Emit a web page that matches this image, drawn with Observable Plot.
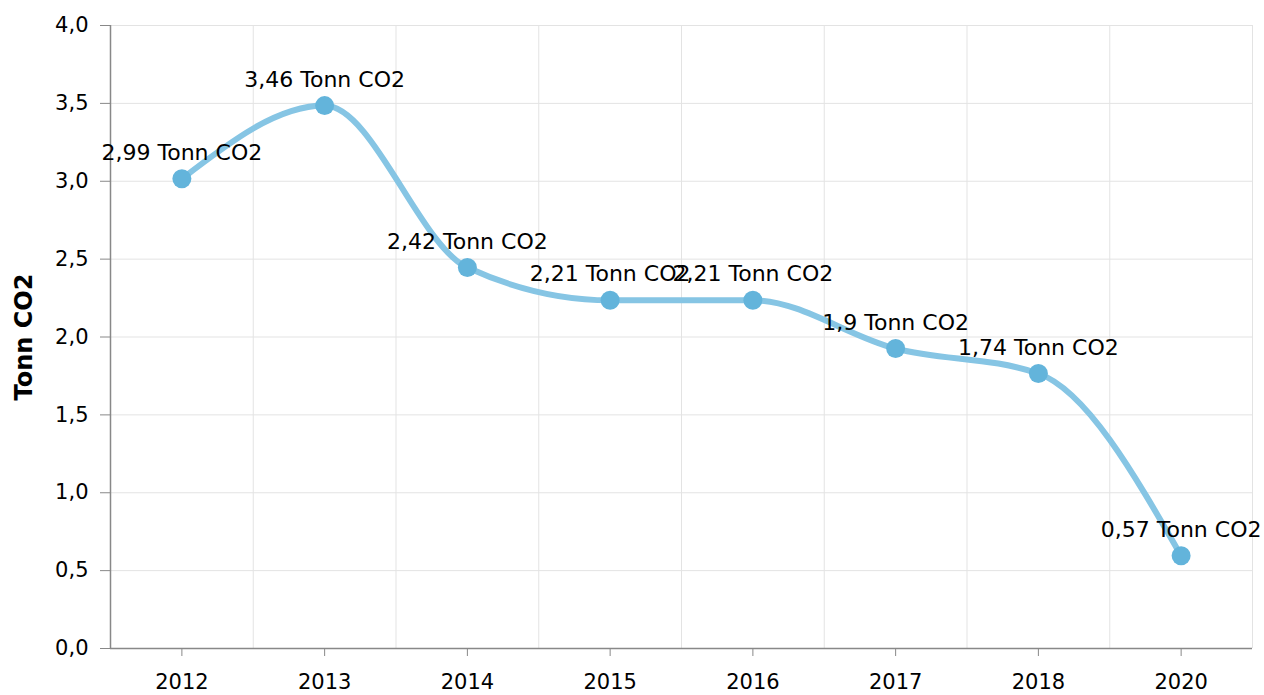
<!DOCTYPE html>
<html>
<head>
<meta charset="utf-8">
<script src="https://cdn.jsdelivr.net/npm/d3@7"></script>
<script src="https://cdn.jsdelivr.net/npm/@observablehq/plot@0.6"></script>
<style>
  html, body { margin: 0; padding: 0; background: #fff; }
  g[aria-label="y-axis label"] text { font-weight: bold; font-size: 24px; }
</style>
</head>
<body>
<div id="chart"></div>
<script>
const years = ["2012", "2013", "2014", "2015", "2016", "2017", "2018", "2020"];
const values = [2.99, 3.46, 2.42, 2.21, 2.21, 1.9, 1.74, 0.57];
const yTicks = [0, 0.5, 1, 1.5, 2, 2.5, 3, 3.5, 4];
const unit = "Tonn CO2";

const comma = v => String(v).replace(".", ",");
const data = years.map((year, i) => ({i, year, v: values[i], label: comma(values[i]) + " " + unit}));
const n = years.length;
const gridX = d3.range(n + 1).map(k => k - 0.5);

const chart = Plot.plot({
  width: 1264,
  height: 695,
  marginLeft: 110,
  marginRight: 12,
  marginTop: 25,
  marginBottom: 47,
  style: {fontFamily: "DejaVu Sans, Verdana, sans-serif", fontSize: "21px", color: "#000", background: "#fff"},
  x: {type: "linear", domain: [-0.5, n - 0.5]},
  y: {domain: [0, 4]},
  marks: [
    Plot.ruleY(yTicks, {stroke: "#e3e3e3", strokeWidth: 1}),
    Plot.ruleX(gridX, {stroke: "#e3e3e3", strokeWidth: 1}),
    Plot.axisY({
      ticks: yTicks,
      tickFormat: d => d.toFixed(1).replace(".", ","),
      tickSize: 10,
      tickPadding: 12,
      stroke: "#888",
      label: unit,
      labelAnchor: "center",
      labelArrow: "none",
      labelOffset: 96,
      fontSize: 21
    }),
    Plot.axisX({
      ticks: d3.range(n),
      tickFormat: i => years[i],
      tickSize: 8,
      tickPadding: 18,
      stroke: "#888",
      label: null,
      fontSize: 21
    }),
    Plot.ruleX([-0.5], {stroke: "#888", strokeWidth: 1.5}),
    Plot.ruleY([0], {stroke: "#888", strokeWidth: 1.5}),
    Plot.line(data, {x: "i", y: "v", curve: "monotone-x", stroke: "#86c5e4", strokeWidth: 6, dy: -4}),
    Plot.dot(data, {x: "i", y: "v", r: 9.5, fill: "#63b4db", stroke: null, dy: -4}),
    Plot.text(data, {x: "i", y: "v", text: "label", dy: -30, fontSize: 22, fill: "#000"})
  ]
});
document.getElementById("chart").appendChild(chart);
</script>
</body>
</html>
